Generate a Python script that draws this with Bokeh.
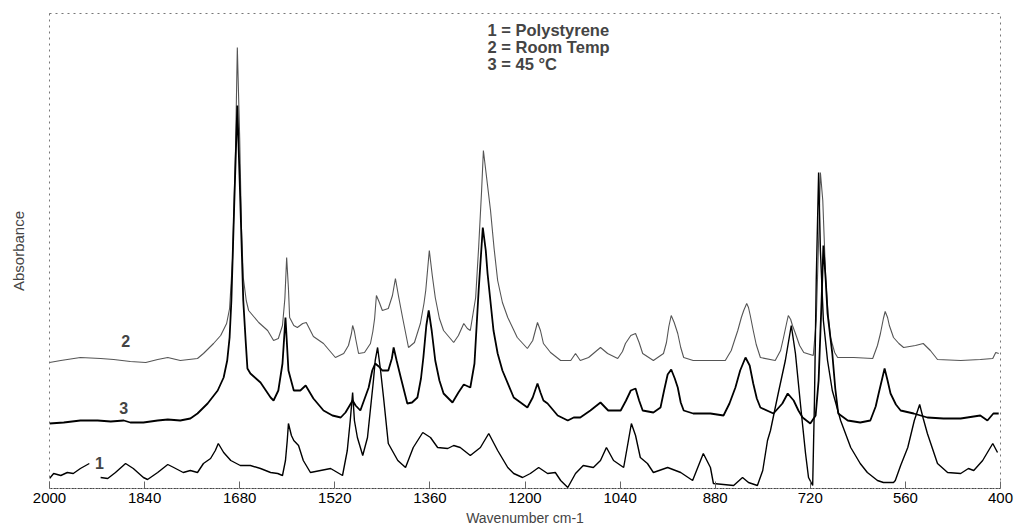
from bokeh.plotting import figure
from bokeh.models import Range1d, FixedTicker, Label
from bokeh.embed import file_html
from bokeh.resources import INLINE

nan = float("nan")

# Curve 2: Room Temp (wavenumber cm-1, absorbance in arbitrary units)
room = [(2000,126),(1981,128),(1948,131),(1914,130),(1892,129),(1864,127),(1838,126),(1818,129),(1801,131),(1780,128),
        (1751,130),(1741,135),(1724,145),(1712,153),(1702,165),(1697,180),(1692,230),(1687,340),(1684,441),(1680,350),
        (1677,260),(1674,211),(1669,188),(1665,178),(1648,166),(1633,158),(1623,148),(1615,150),(1608,163),(1604,190),
        (1601,231),(1598,200),(1596,171),(1589,163),(1583,161),(1574,165),(1568,166),(1556,152),(1539,145),(1519,131),
        (1505,135),(1497,143),(1492,155),(1490,163),(1487,157),(1485,150),(1480,135),(1470,136),(1460,145),(1456,157),
        (1453,170),(1450,193),(1445,186),(1440,178),(1430,180),(1423,193),(1418,210),(1413,193),(1406,171),(1396,141),
        (1386,146),(1376,165),(1370,185),(1367,198),(1361,238),(1356,213),(1351,191),(1344,170),(1337,158),(1320,146),
        (1312,153),(1303,165),(1297,160),(1292,158),(1283,191),(1278,241),(1273,298),(1270,338),(1265,313),(1258,278),
        (1252,240),(1246,208),(1238,186),(1229,171),(1213,151),(1196,140),(1187,148),(1179,166),(1174,158),(1169,145),
        (1157,136),(1140,128),(1123,128),(1115,135),(1107,128),(1093,131),(1083,136),(1073,141),(1061,135),(1044,130),
        (1036,137),(1031,145),(1022,153),(1014,155),(1008,146),(1002,135),(984,128),(967,135),(962,146),(958,162),
        (954,173),(949,166),(943,155),(938,141),(933,131),(917,128),(888,128),(863,128),(853,138),(847,149),
        (842,158),(836,171),(832,178),(827,185),(824,181),(821,173),(816,158),(811,144),(804,131),(779,128),
        (770,138),(765,151),(760,165),(757,173),(753,169),(750,163),(745,155),(738,143),(731,136),(715,133),
        (710,168),(706,248),(703,316),(699,288),(694,208),(690,175),(686,151),(679,136),(674,131),(647,131),
        (615,130),(607,143),(602,155),(597,170),(594,177),(590,171),(587,163),(580,151),(571,145),(563,141),
        (543,143),(530,145),(518,138),(506,129),(467,128),(434,129),(413,130),(408,136),(403,135)]

# Curve 3: 45 C
hot = [(2000,65),(1976,66),(1948,68),(1919,68),(1897,67),(1875,68),(1864,66),(1842,66),(1818,68),(1801,69),
       (1780,68),(1763,70),(1751,75),(1734,85),(1717,98),(1707,111),(1701,128),(1697,151),(1694,188),(1689,288),
       (1684,383),(1679,288),(1674,188),(1670,148),(1667,120),(1662,115),(1645,106),(1628,91),(1623,88),(1615,98),
       (1608,125),(1603,171),(1598,118),(1589,98),(1578,98),(1569,103),(1556,90),(1539,78),(1524,73),(1510,71),
       (1502,76),(1495,83),(1490,88),(1485,83),(1477,78),(1463,101),(1457,118),(1452,125),(1446,122),(1440,118),
       (1430,118),(1424,130),(1421,141),(1416,128),(1409,111),(1398,85),(1390,86),(1381,91),(1375,110),(1371,131),
       (1366,163),(1362,178),(1357,158),(1351,128),(1344,108),(1337,95),(1322,86),(1312,96),(1303,104),(1292,101),
       (1285,125),(1278,198),(1271,261),(1266,238),(1263,215),(1253,158),(1246,135),(1238,118),(1219,91),(1196,81),
       (1187,91),(1179,105),(1174,96),(1169,88),(1162,85),(1145,73),(1128,68),(1118,71),(1107,71),(1090,78),
       (1073,86),(1060,78),(1039,78),(1030,88),(1022,98),(1014,100),(1008,88),(1002,78),(984,76),(972,81),
       (966,98),(960,114),(954,119),(948,110),(943,101),(938,86),(933,78),(917,75),(888,75),(866,73),
       (856,85),(846,101),(838,118),(829,131),(822,123),(816,105),(810,90),(804,81),(782,75),(767,85),
       (758,95),(748,88),(740,78),(733,71),(720,65),(711,73),(706,108),(701,188),(698,243),(694,208),
       (691,175),(683,135),(678,100),(673,75),(657,68),(636,66),(619,68),(610,82),(605,95),(595,120),
       (590,108),(585,95),(576,84),(568,78),(546,75),(523,71),(496,70),(467,70),(434,73),(422,68),
       (412,75),(403,75)]

# Curve 1: Polystyrene (nan = gap where the "1" label sits)
ps = [(2000,10),(1993,15),(1981,13),(1970,16),(1960,15),(1948,20),(1939,23),(1933,25),(1925,nan),(1914,11),
      (1902,10),(1889,16),(1872,25),(1859,20),(1842,11),(1835,9),(1818,16),(1801,24),(1791,21),(1775,16),
      (1763,18),(1751,16),(1741,25),(1729,30),(1721,38),(1716,45),(1707,36),(1695,28),(1679,23),(1662,23),
      (1645,20),(1628,16),(1616,15),(1608,13),(1603,28),(1600,48),(1598,65),(1593,53),(1589,48),(1581,43),
      (1573,28),(1561,16),(1544,18),(1527,20),(1507,13),(1499,38),(1494,68),(1490,96),(1487,68),(1482,51),
      (1473,33),(1465,51),(1455,108),(1452,128),(1448,141),(1443,118),(1438,91),(1430,45),(1414,28),(1401,21),
      (1388,41),(1372,56),(1359,51),(1347,41),(1330,40),(1320,43),(1309,41),(1292,33),(1275,41),(1261,55),
      (1246,38),(1229,21),(1219,15),(1204,11),(1191,15),(1177,21),(1162,15),(1149,16),(1140,8),(1128,1),
      (1115,15),(1102,23),(1085,21),(1073,28),(1063,41),(1051,28),(1034,21),(1026,48),(1021,65),(1014,53),
      (1006,31),(994,25),(984,16),(960,21),(938,16),(918,8),(900,35),(888,21),(883,5),(849,3),
      (834,11),(824,6),(809,3),(800,18),(792,48),(787,58),(774,95),(762,128),(752,163),(745,135),
      (736,81),(728,35),(723,11),(716,3),(713,88),(710,208),(706,316),(703,238),(698,168),(691,128),
      (683,98),(669,68),(652,41),(636,25),(624,16),(607,8),(597,6),(580,6),(577,8),(568,23),
      (556,41),(545,68),(536,84),(530,70),(523,55),(506,25),(489,16),(467,15),(454,20),(445,18),
      (430,28),(413,45),(405,36)]

x_ticks = [2000, 1840, 1680, 1520, 1360, 1200, 1040, 880, 720, 560, 400]
legend_lines = ["1 = Polystyrene", "2 = Room Temp", "3 = 45 °C"]
curve_labels = ["1", "2", "3"]

room_wn, room_ab = zip(*room)
hot_wn, hot_ab = zip(*hot)
ps_wn, ps_ab = zip(*ps)

FONT = "Liberation Sans"

p = figure(width=1015, height=530, output_backend="svg", toolbar_location=None,
           x_range=Range1d(2000, 400), y_range=Range1d(0, 475),
           min_border_left=49, min_border_right=15, min_border_top=13, min_border_bottom=42)
p.grid.visible = False
p.outline_line_color = "#777777"
p.outline_line_dash = "dotted"
p.background_fill_color = "white"
p.border_fill_color = "white"

xa = p.xaxis[0]
xa.ticker = FixedTicker(ticks=x_ticks)
xa.major_tick_in = 7
xa.major_tick_out = 0
xa.major_tick_line_color = "#666666"
xa.minor_tick_line_color = None
xa.axis_line_color = "#444444"
xa.axis_line_dash = "2 1"
xa.major_label_standoff = 4
xa.major_label_text_font = FONT
xa.major_label_text_font_size = "15px"
xa.major_label_text_color = "black"
xa.axis_label = "Wavenumber cm-1"
xa.axis_label_text_font = FONT
xa.axis_label_text_font_size = "14px"
xa.axis_label_text_font_style = "normal"
xa.axis_label_standoff = 4

ya = p.yaxis[0]
ya.ticker = FixedTicker(ticks=[])
ya.major_tick_out = 0
ya.major_tick_in = 0
ya.minor_tick_line_color = None
ya.axis_line_color = None
ya.major_label_standoff = 0
ya.axis_label = "Absorbance"
ya.axis_label_text_font = FONT
ya.axis_label_text_font_size = "15px"
ya.axis_label_text_font_style = "normal"
ya.axis_label_standoff = 23

p.line(room_wn, room_ab, line_color="#555555", line_width=1.1)
p.line(hot_wn, hot_ab, line_color="black", line_width=1.8)
p.line(ps_wn, ps_ab, line_color="black", line_width=1.4)

# curve number labels
for txt, xw, yv in zip(curve_labels, [1916, 1872, 1875], [26, 148, 81]):
    p.add_layout(Label(x=xw, y=yv, text=txt, text_font=FONT, text_font_size="16px",
                       text_font_style="bold", text_align="center", text_baseline="middle"))

# legend text block
for i, txt in enumerate(legend_lines):
    p.add_layout(Label(x=1263, y=468 - 17 * i, text=txt, text_font=FONT, text_font_size="16.5px",
                       text_font_style="bold", text_align="left", text_baseline="top"))

open("out.html", "w").write(file_html(p, INLINE))
